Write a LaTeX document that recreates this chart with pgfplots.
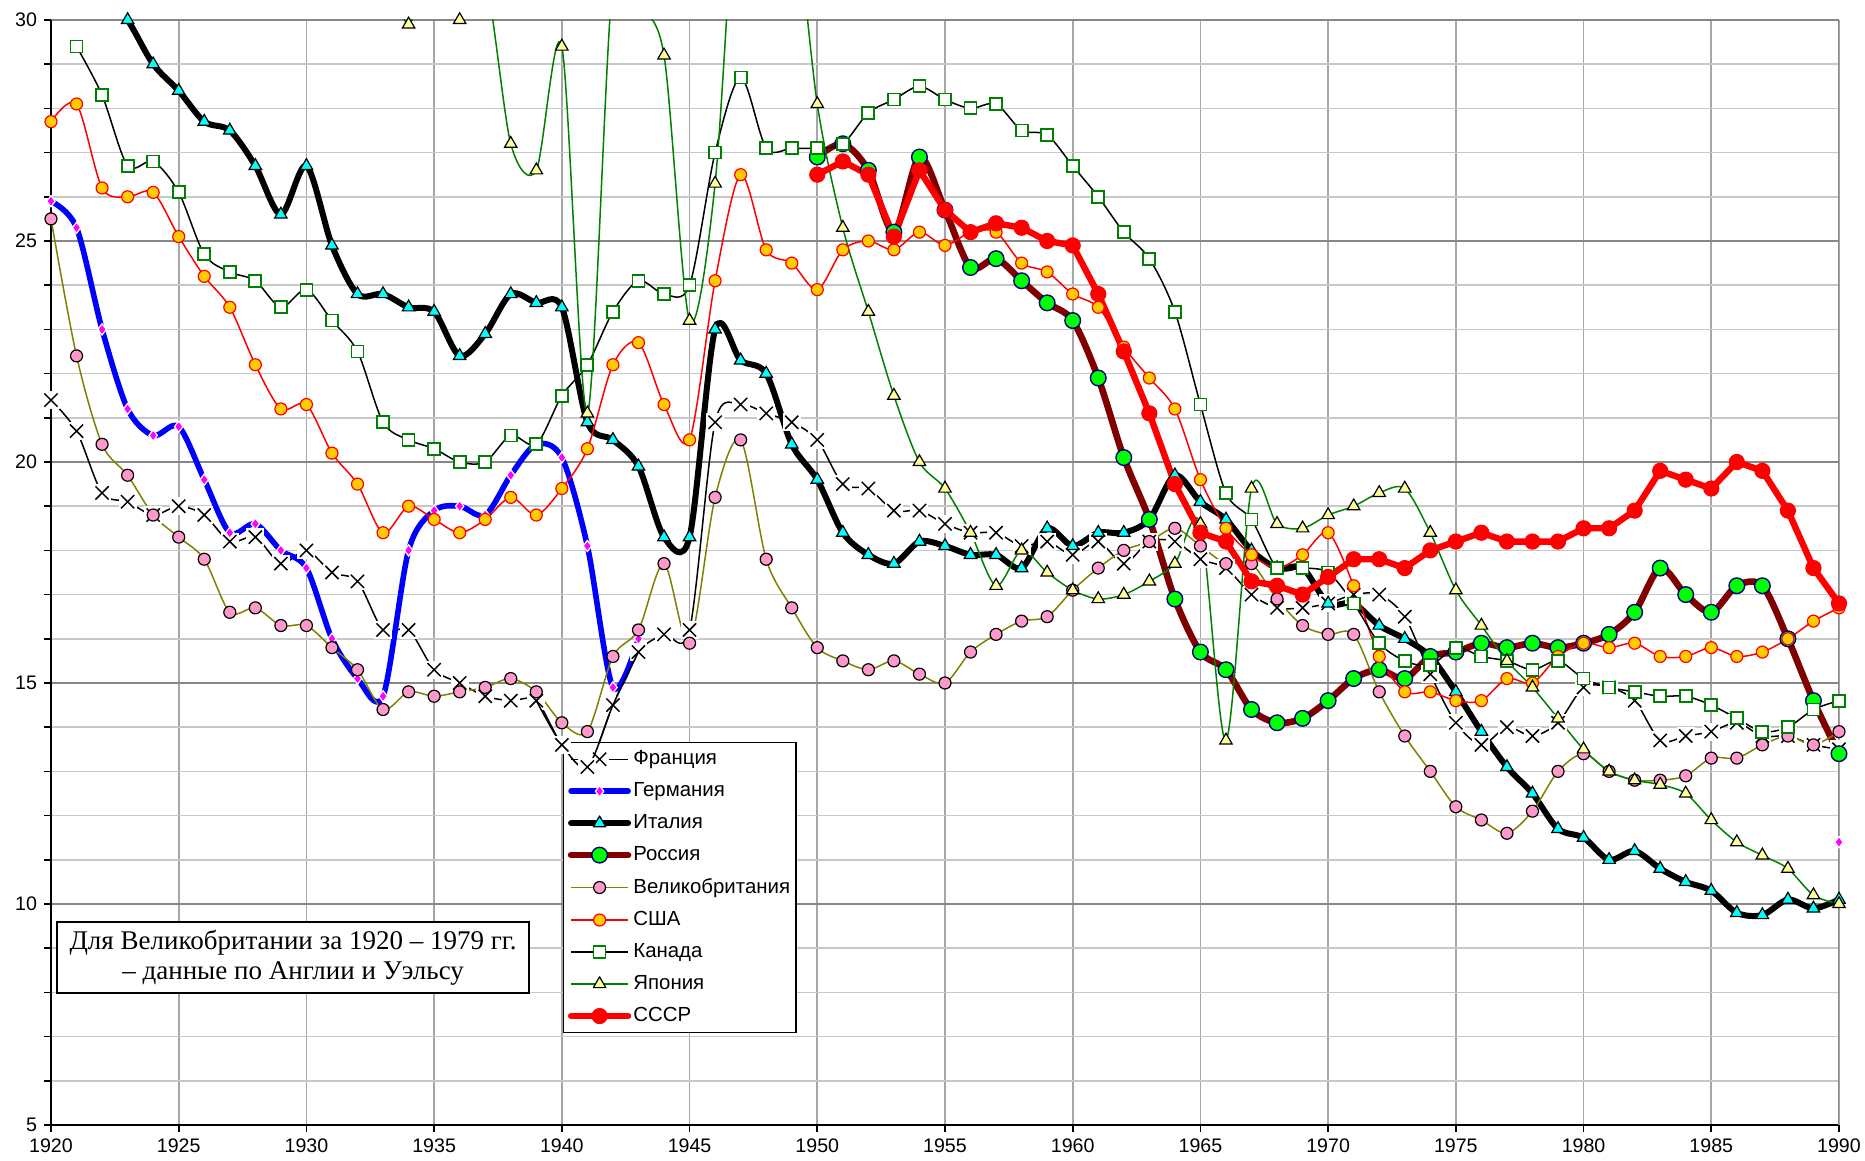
\documentclass[border=0pt]{standalone}
\usepackage{fontspec}
\setmainfont{Liberation Sans}
\newfontfamily\timesfont{Liberation Serif}
\usepackage{pgfplots}
\usepackage{pgfplotstable}
\pgfplotsset{compat=1.18}

\definecolor{cMaroon}{HTML}{800000}
\definecolor{cGreen}{HTML}{00FF00}
\definecolor{cNavy}{HTML}{000080}
\definecolor{cOlive}{HTML}{808000}
\definecolor{cPink}{HTML}{FF99CC}
\definecolor{cGold}{HTML}{FFCC00}
\definecolor{cDGreen}{HTML}{008000}
\definecolor{cLYellow}{HTML}{FFFF99}
\definecolor{cCyan}{HTML}{00FFFF}
\definecolor{cMagenta}{HTML}{FF00FF}
\definecolor{cBlue}{HTML}{0000FF}
\definecolor{cRed}{HTML}{FF0000}

\pgfdeclareplotmark{xbox}{%
  \pgfpathrectangle{\pgfqpoint{-1.36\pgfplotmarksize}{-1.36\pgfplotmarksize}}{\pgfqpoint{2.72\pgfplotmarksize}{2.72\pgfplotmarksize}}%
  \pgfsetfillcolor{white}%
  \pgfusepathqfill
  \pgfpathmoveto{\pgfqpoint{-\pgfplotmarksize}{-\pgfplotmarksize}}%
  \pgfpathlineto{\pgfqpoint{\pgfplotmarksize}{\pgfplotmarksize}}%
  \pgfpathmoveto{\pgfqpoint{-\pgfplotmarksize}{\pgfplotmarksize}}%
  \pgfpathlineto{\pgfqpoint{\pgfplotmarksize}{-\pgfplotmarksize}}%
  \pgfusepathqstroke
}

\pgfplotstableread{
x y
1920 21.4
1921 20.7
1922 19.3
1923 19.1
1924 18.8
1925 19.0
1926 18.8
1927 18.2
1928 18.3
1929 17.7
1930 18.0
1931 17.5
1932 17.3
1933 16.2
1934 16.2
1935 15.3
1936 15.0
1937 14.7
1938 14.6
1939 14.6
1940 13.6
1941 13.1
1942 14.5
1943 15.7
1944 16.1
1945 16.2
1946 20.9
1947 21.3
1948 21.1
1949 20.9
1950 20.5
1951 19.5
1952 19.4
1953 18.9
1954 18.9
1955 18.6
1956 18.4
1957 18.4
1958 18.1
1959 18.2
1960 17.9
1961 18.2
1962 17.7
1963 18.2
1964 18.2
1965 17.8
1966 17.6
1967 17.0
1968 16.7
1969 16.7
1970 16.8
1971 17.0
1972 17.0
1973 16.5
1974 15.2
1975 14.1
1976 13.6
1977 14.0
1978 13.8
1979 14.1
1980 14.9
1981 14.9
1982 14.6
1983 13.7
1984 13.8
1985 13.9
1986 14.1
1987 13.8
1988 13.8
1989 13.6
1990 13.5
}\france

\pgfplotstableread{
x y
1920 25.9
1921 25.3
1922 23.0
1923 21.2
1924 20.6
1925 20.8
1926 19.6
1927 18.4
1928 18.6
1929 18.0
1930 17.6
1931 16.0
1932 15.1
1933 14.7
1934 18.0
1935 18.9
1936 19.0
1937 18.8
1938 19.7
1939 20.4
1940 20.1
1941 18.1
1942 14.9
1943 16.0
1944 nan
1990 11.4
}\germany

\pgfplotstableread{
x y
1920 31.8
1921 30.8
1922 30.7
1923 30.0
1924 29.0
1925 28.4
1926 27.7
1927 27.5
1928 26.7
1929 25.6
1930 26.7
1931 24.9
1932 23.8
1933 23.8
1934 23.5
1935 23.4
1936 22.4
1937 22.9
1938 23.8
1939 23.6
1940 23.5
1941 20.9
1942 20.5
1943 19.9
1944 18.3
1945 18.3
1946 23.0
1947 22.3
1948 22.0
1949 20.4
1950 19.6
1951 18.4
1952 17.9
1953 17.7
1954 18.2
1955 18.1
1956 17.9
1957 17.9
1958 17.6
1959 18.5
1960 18.1
1961 18.4
1962 18.4
1963 18.7
1964 19.7
1965 19.1
1966 18.7
1967 18.0
1968 17.6
1969 17.6
1970 16.8
1971 16.8
1972 16.3
1973 16.0
1974 15.6
1975 14.8
1976 13.9
1977 13.1
1978 12.5
1979 11.7
1980 11.5
1981 11.0
1982 11.2
1983 10.8
1984 10.5
1985 10.3
1986 9.8
1987 9.75
1988 10.1
1989 9.9
1990 10.1
}\italy

\pgfplotstableread{
x y
1950 26.9
1951 27.2
1952 26.6
1953 25.2
1954 26.9
1955 25.7
1956 24.4
1957 24.6
1958 24.1
1959 23.6
1960 23.2
1961 21.9
1962 20.1
1963 18.7
1964 16.9
1965 15.7
1966 15.3
1967 14.4
1968 14.1
1969 14.2
1970 14.6
1971 15.1
1972 15.3
1973 15.1
1974 15.6
1975 15.7
1976 15.9
1977 15.8
1978 15.9
1979 15.8
1980 15.9
1981 16.1
1982 16.6
1983 17.6
1984 17.0
1985 16.6
1986 17.2
1987 17.2
1988 16.0
1989 14.6
1990 13.4
}\russia

\pgfplotstableread{
x y
1920 25.5
1921 22.4
1922 20.4
1923 19.7
1924 18.8
1925 18.3
1926 17.8
1927 16.6
1928 16.7
1929 16.3
1930 16.3
1931 15.8
1932 15.3
1933 14.4
1934 14.8
1935 14.7
1936 14.8
1937 14.9
1938 15.1
1939 14.8
1940 14.1
1941 13.9
1942 15.6
1943 16.2
1944 17.7
1945 15.9
1946 19.2
1947 20.5
1948 17.8
1949 16.7
1950 15.8
1951 15.5
1952 15.3
1953 15.5
1954 15.2
1955 15.0
1956 15.7
1957 16.1
1958 16.4
1959 16.5
1960 17.1
1961 17.6
1962 18.0
1963 18.2
1964 18.5
1965 18.1
1966 17.7
1967 17.7
1968 16.9
1969 16.3
1970 16.1
1971 16.1
1972 14.8
1973 13.8
1974 13.0
1975 12.2
1976 11.9
1977 11.6
1978 12.1
1979 13.0
1980 13.4
1981 13.0
1982 12.8
1983 12.8
1984 12.9
1985 13.3
1986 13.3
1987 13.6
1988 13.8
1989 13.6
1990 13.9
}\uk

\pgfplotstableread{
x y
1920 27.7
1921 28.1
1922 26.2
1923 26.0
1924 26.1
1925 25.1
1926 24.2
1927 23.5
1928 22.2
1929 21.2
1930 21.3
1931 20.2
1932 19.5
1933 18.4
1934 19.0
1935 18.7
1936 18.4
1937 18.7
1938 19.2
1939 18.8
1940 19.4
1941 20.3
1942 22.2
1943 22.7
1944 21.3
1945 20.5
1946 24.1
1947 26.5
1948 24.8
1949 24.5
1950 23.9
1951 24.8
1952 25.0
1953 24.8
1954 25.2
1955 24.9
1956 25.2
1957 25.2
1958 24.5
1959 24.3
1960 23.8
1961 23.5
1962 22.6
1963 21.9
1964 21.2
1965 19.6
1966 18.5
1967 17.9
1968 17.6
1969 17.9
1970 18.4
1971 17.2
1972 15.6
1973 14.8
1974 14.8
1975 14.6
1976 14.6
1977 15.1
1978 15.0
1979 15.6
1980 15.9
1981 15.8
1982 15.9
1983 15.6
1984 15.6
1985 15.8
1986 15.6
1987 15.7
1988 16.0
1989 16.4
1990 16.7
}\usa

\pgfplotstableread{
x y
1921 29.4
1922 28.3
1923 26.7
1924 26.8
1925 26.1
1926 24.7
1927 24.3
1928 24.1
1929 23.5
1930 23.9
1931 23.2
1932 22.5
1933 20.9
1934 20.5
1935 20.3
1936 20.0
1937 20.0
1938 20.6
1939 20.4
1940 21.5
1941 22.2
1942 23.4
1943 24.1
1944 23.8
1945 24.0
1946 27.0
1947 28.7
1948 27.1
1949 27.1
1950 27.1
1951 27.2
1952 27.9
1953 28.2
1954 28.5
1955 28.2
1956 28.0
1957 28.1
1958 27.5
1959 27.4
1960 26.7
1961 26.0
1962 25.2
1963 24.6
1964 23.4
1965 21.3
1966 19.3
1967 18.7
1968 17.6
1969 17.6
1970 17.5
1971 16.8
1972 15.9
1973 15.5
1974 15.4
1975 15.8
1976 15.6
1977 15.5
1978 15.3
1979 15.5
1980 15.1
1981 14.9
1982 14.8
1983 14.7
1984 14.7
1985 14.5
1986 14.2
1987 13.9
1988 14.0
1989 14.4
1990 14.6
}\canada

\pgfplotstableread{
x y
1920 36.2
1921 35.1
1922 34.3
1923 35.2
1924 33.8
1925 34.9
1926 34.6
1927 33.6
1928 34.4
1929 32.9
1930 32.4
1931 32.1
1932 32.9
1933 31.5
1934 29.9
1935 31.6
1936 30.0
1937 30.9
1938 27.2
1939 26.6
1940 29.4
1941 21.1
1942 30.9
1943 30.3
1944 29.2
1945 23.2
1946 26.3
1947 34.3
1948 33.5
1949 33.0
1950 28.1
1951 25.3
1952 23.4
1953 21.5
1954 20.0
1955 19.4
1956 18.4
1957 17.2
1958 18.0
1959 17.5
1960 17.1
1961 16.9
1962 17.0
1963 17.3
1964 17.7
1965 18.6
1966 13.7
1967 19.4
1968 18.6
1969 18.5
1970 18.8
1971 19.0
1972 19.3
1973 19.4
1974 18.4
1975 17.1
1976 16.3
1977 15.5
1978 14.9
1979 14.2
1980 13.5
1981 13.0
1982 12.8
1983 12.7
1984 12.5
1985 11.9
1986 11.4
1987 11.1
1988 10.8
1989 10.2
1990 10.0
}\japan

\pgfplotstableread{
x y
1950 26.5
1951 26.8
1952 26.5
1953 25.1
1954 26.6
1955 25.7
1956 25.2
1957 25.4
1958 25.3
1959 25.0
1960 24.9
1961 23.8
1962 22.5
1963 21.1
1964 19.5
1965 18.4
1966 18.2
1967 17.3
1968 17.2
1969 17.0
1970 17.4
1971 17.8
1972 17.8
1973 17.6
1974 18.0
1975 18.2
1976 18.4
1977 18.2
1978 18.2
1979 18.2
1980 18.5
1981 18.5
1982 18.9
1983 19.8
1984 19.6
1985 19.4
1986 20.0
1987 19.8
1988 18.9
1989 17.6
1990 16.8
}\ussr

\pgfplotsset{
  frL/.style={draw=black, line width=0.75pt, smooth, tension=0.5, line join=round},
  frM/.style={mark=xbox, mark size=3.3pt, mark options={solid, draw=black, line width=0.75pt}},
  deL/.style={draw=cBlue, line width=2.8pt, smooth, tension=0.5, line join=round, line cap=round},
  deM/.style={mark=diamond*, mark size=2.8pt, mark options={solid, fill=cMagenta, draw=white, line width=0.6pt}},
  itL/.style={draw=black, line width=3pt, smooth, tension=0.5, line join=round, line cap=round},
  itM/.style={mark=triangle*, mark size=3.6pt, mark options={solid, fill=cCyan, draw=black, line width=0.6pt}},
  ruL/.style={draw=cMaroon, line width=3.3pt, smooth, tension=0.5, line join=round, line cap=round},
  ruM/.style={mark=*, mark size=3.9pt, mark options={solid, fill=cGreen, draw=cNavy, line width=0.7pt}},
  ukL/.style={draw=cOlive, line width=0.75pt, smooth, tension=0.5, line join=round},
  ukM/.style={mark=*, mark size=3pt, mark options={solid, fill=cPink, draw=black, line width=0.6pt}},
  usL/.style={draw=cRed, line width=0.75pt, smooth, tension=0.5, line join=round},
  usM/.style={mark=*, mark size=3pt, mark options={solid, fill=cGold, draw=cRed, line width=0.6pt}},
  caL/.style={draw=black, line width=0.75pt, smooth, tension=0.5, line join=round},
  caM/.style={mark=square*, mark size=3pt, mark options={solid, fill=white, draw=cDGreen, line width=0.9pt}},
  jpL/.style={draw=cDGreen, line width=0.75pt, smooth, tension=0.5, line join=round},
  jpM/.style={mark=triangle*, mark size=3.6pt, mark options={solid, fill=cLYellow, draw=black, line width=0.6pt}},
  suL/.style={draw=cRed, line width=3.2pt, line join=round, line cap=round},
  suM/.style={mark=*, mark size=3.8pt, mark options={solid, fill=cRed, draw=cRed, line width=0.5pt}},
  baseaxis/.style={
    at={(0pt,0pt)}, anchor=south west,
    scale only axis, width=894pt, height=552.5pt,
    xmin=1920, xmax=1990, ymin=5, ymax=30,
    unbounded coords=jump,
  },
}

\begin{document}
\begin{tikzpicture}
\useasboundingbox (-25.5pt,-18pt) rectangle (907pt,562.5pt);
\begin{axis}[
  baseaxis,
  axis x line*=bottom, axis y line*=left,
  axis line style={black, line width=1pt},
  xtick={1920,1925,...,1990},
  ytick={5,10,...,30},
  minor y tick num=4,
  tick align=outside,
  major tick length=3.5pt, minor tick length=3.5pt,
  tick style={black, line width=0.8pt},
  xmajorgrids, ymajorgrids, yminorgrids,
  major x grid style={color=gray!70, line width=0.8pt},
  major y grid style={color=gray!94, line width=0.8pt},
  minor y grid style={color=gray!43, line width=0.8pt},
  tick label style={font=\fontsize{9.8}{11}\selectfont},
  /pgf/number format/assume math mode=true,
  xticklabel style={/pgf/number format/1000 sep={}},
  scaled ticks=false,
  legend cell align=left,
  legend image code/.code={\draw[mark repeat=2,mark phase=2,#1] plot coordinates {(0pt,0pt) (14.25pt,0pt) (28.5pt,0pt)};},
  legend style={at={(rel axis cs:0.2864,0.3466)}, anchor=north west,
    draw=black, line width=0.7pt, fill=white,
    font=\fontsize{10.2}{12}\selectfont,
    inner xsep=2pt, inner ysep=2pt, row sep=3.45pt,
    nodes={inner xsep=1pt}},
]
\draw[color=gray!94, line width=0.9pt] (rel axis cs:1,0) -- (rel axis cs:1,1);

% legend images
\addlegendimage{frL, frM}\addlegendentry{Франция}
\addlegendimage{deL, deM}\addlegendentry{Германия}
\addlegendimage{itL, itM}\addlegendentry{Италия}
\addlegendimage{ruL, ruM}\addlegendentry{Россия}
\addlegendimage{ukL, ukM}\addlegendentry{Великобритания}
\addlegendimage{usL, usM}\addlegendentry{США}
\addlegendimage{caL, caM}\addlegendentry{Канада}
\addlegendimage{jpL, jpM}\addlegendentry{Япония}
\addlegendimage{suL, suM}\addlegendentry{СССР}

% lines
\addplot[frL, no markers, forget plot] table {\france};
\addplot[deL, no markers, forget plot] table {\germany};
\addplot[itL, no markers, forget plot] table {\italy};
\addplot[ruL, no markers, forget plot] table {\russia};
\addplot[ukL, no markers, forget plot] table {\uk};
\addplot[usL, no markers, forget plot] table {\usa};
\addplot[caL, no markers, forget plot] table {\canada};
\addplot[jpL, no markers, forget plot] table {\japan};
\addplot[suL, no markers, forget plot] table {\ussr};

% markers
\addplot[frM, only marks, forget plot, restrict y to domain=0:30.2] table {\france};
\addplot[deM, only marks, forget plot, restrict y to domain=0:30.2] table {\germany};
\addplot[itM, only marks, forget plot, restrict y to domain=0:30.2] table {\italy};
\addplot[ruM, only marks, forget plot, restrict y to domain=0:30.2] table {\russia};
\addplot[ukM, only marks, forget plot, restrict y to domain=0:30.2] table {\uk};
\addplot[usM, only marks, forget plot, restrict y to domain=0:30.2] table {\usa};
\addplot[caM, only marks, forget plot, restrict y to domain=0:30.2] table {\canada};
\addplot[jpM, only marks, forget plot, restrict y to domain=0:30.2] table {\japan};
\addplot[suM, only marks, forget plot, restrict y to domain=0:30.2] table {\ussr};

\node[draw=black, line width=0.7pt, fill=white, align=center, inner sep=0pt,
  minimum width=236pt, minimum height=35.5pt,
  font=\timesfont\fontsize{13.5}{15}\selectfont] at (axis cs:1929.48,8.79)
  {Для Великобритании за 1920 – 1979 гг.\\– данные по Англии и Уэльсу};
\end{axis}
% France series drawn again over the legend box, as in the original
\begin{axis}[baseaxis, hide axis]
\addplot[frL, no markers, restrict x to domain=1939:1943] table {\france};
\addplot[frM, only marks, restrict x to domain=1939.5:1941.5] table {\france};
\end{axis}
\end{tikzpicture}
\end{document}
